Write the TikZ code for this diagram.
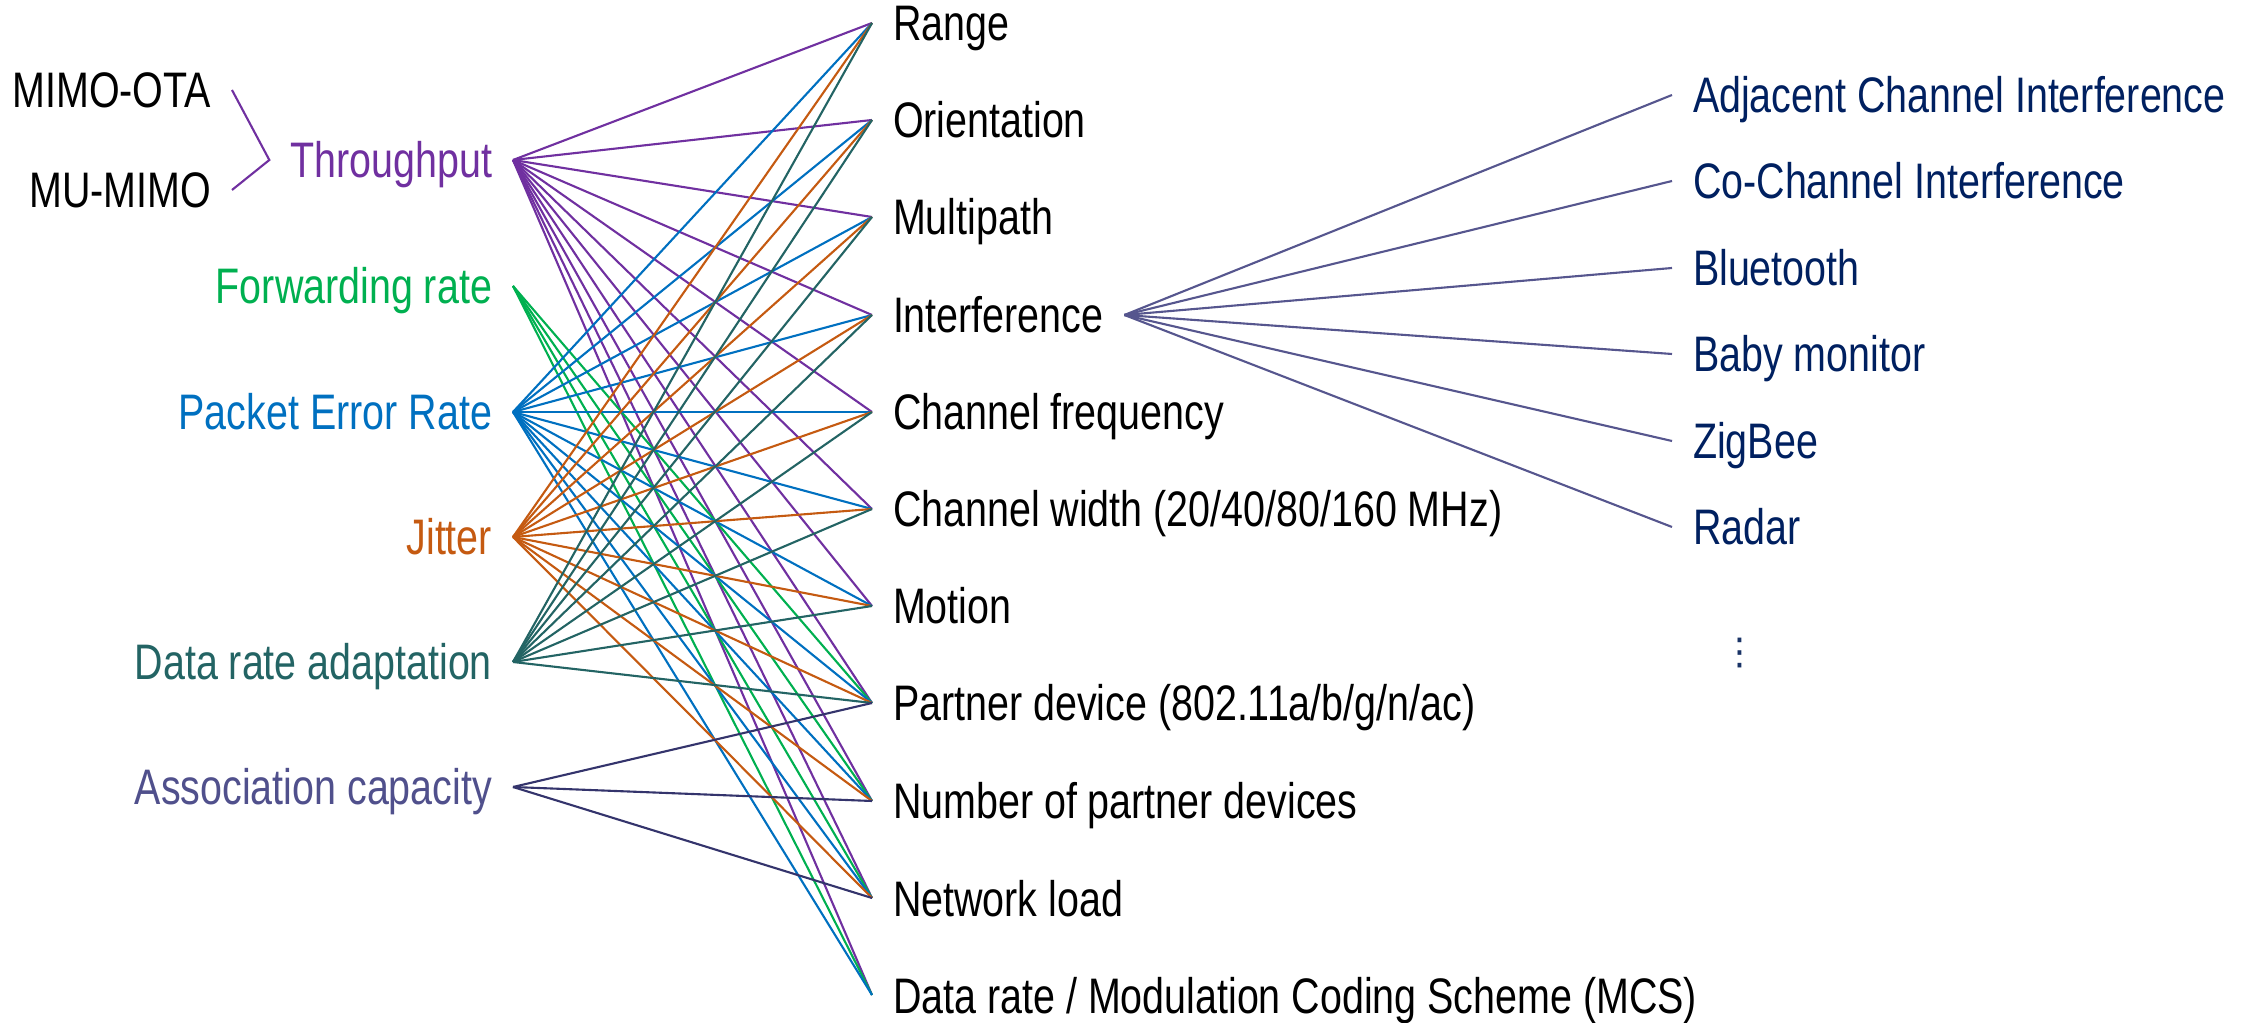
\documentclass[tikz,border=0pt]{standalone}
\usepackage{fontspec}
\setmainfont{Liberation Sans}[FakeStretch=0.79]
\newfontfamily\dotsfont{DejaVu Sans}
\usepackage{tikz}

\definecolor{tput}{HTML}{7030A0}
\definecolor{fwd}{HTML}{00B050}
\definecolor{per}{HTML}{0070C0}
\definecolor{jit}{HTML}{C55A11}
\definecolor{dra}{HTML}{236464}
\definecolor{assoc}{HTML}{50508C}
\definecolor{assocln}{HTML}{34346C}
\definecolor{intfln}{HTML}{56568E}
\definecolor{navy}{HTML}{002060}

\begin{document}
\begin{tikzpicture}[
    lbl/.style={inner xsep=0.21cm,inner ysep=0pt,outer sep=0pt,
      text height=0.36cm,text depth=0pt,font=\fontsize{14.2}{17}\selectfont},
    lft/.style={lbl,anchor=east},
    rgt/.style={lbl,anchor=west},
    wire/.style={line width=0.6pt}]
  \useasboundingbox (0,0) rectangle (22.46,-10.23);

  \node[lft] (mimo) at (2.32,-0.90) {MIMO-OTA};
  \node[lft] (mumimo) at (2.32,-1.90) {MU-MIMO};

  \node[lft,text=tput] (tp) at (5.13,-1.60) {Throughput};
  \node[lft,text=fwd] (fr) at (5.13,-2.86) {Forwarding rate};
  \node[lft,text=per] (per) at (5.13,-4.12) {Packet Error Rate};
  \node[lft,text=jit] (jit) at (5.13,-5.37) {Jitter};
  \node[lft,text=dra] (dra) at (5.13,-6.62) {Data rate adaptation};
  \node[lft,text=assoc] (ac) at (5.13,-7.87) {Association capacity};

  \node[rgt] (range) at (8.72,-0.23) {Range};
  \node[rgt] (orient) at (8.72,-1.20) {Orientation};
  \node[rgt] (multi) at (8.72,-2.17) {Multipath};
  \node[rgt] (intf) at (8.72,-3.15) {Interference};
  \node[rgt] (cfreq) at (8.72,-4.12) {Channel frequency};
  \node[rgt] (cwidth) at (8.72,-5.09) {Channel width (20/40/80/160 MHz)};
  \node[rgt] (motion) at (8.72,-6.06) {Motion};
  \node[rgt] (partner) at (8.72,-7.03) {Partner device (802.11a/b/g/n/ac)};
  \node[rgt] (npart) at (8.72,-8.01) {Number of partner devices};
  \node[rgt] (nload) at (8.72,-8.98) {Network load};
  \node[rgt] (mcs) at (8.72,-9.95) {Data rate / Modulation Coding Scheme (MCS)};

  \node[rgt,text=navy] (aci) at (16.72,-0.95) {Adjacent Channel Interference};
  \node[rgt,text=navy] (cci) at (16.72,-1.81) {Co-Channel Interference};
  \node[rgt,text=navy] (bt) at (16.72,-2.68) {Bluetooth};
  \node[rgt,text=navy] (baby) at (16.72,-3.54) {Baby monitor};
  \node[rgt,text=navy] (zig) at (16.72,-4.41) {ZigBee};
  \node[rgt,text=navy] (radar) at (16.72,-5.27) {Radar};
  \node[text=navy!80!gray,font=\dotsfont\fontsize{10.5}{12}\selectfont] (more) at (17.40,-6.53) {⋮};

  \draw[wire,tput] (mimo.east) -- (tp.west) -- (mumimo.east);

  \foreach \m in {range,orient,multi,intf,cfreq,cwidth,motion,partner,npart,nload,mcs}
    \draw[wire,tput] (tp.east) -- (\m.west);
  \foreach \m in {partner,npart,nload,mcs}
    \draw[wire,fwd] (fr.east) -- (\m.west);
  \foreach \m in {range,orient,multi,intf,cfreq,cwidth,motion,partner,npart,nload,mcs}
    \draw[wire,per] (per.east) -- (\m.west);
  \foreach \m in {range,orient,multi,intf,cfreq,cwidth,motion,partner,npart,nload}
    \draw[wire,jit] (jit.east) -- (\m.west);
  \foreach \m in {range,orient,multi,intf,cfreq,cwidth,motion,partner}
    \draw[wire,dra] (dra.east) -- (\m.west);
  \foreach \m in {partner,npart,nload}
    \draw[wire,assocln] (ac.east) -- (\m.west);

  \foreach \r in {aci,cci,bt,baby,zig,radar}
    \draw[wire,intfln] (intf.east) -- (\r.west);
\end{tikzpicture}
\end{document}
